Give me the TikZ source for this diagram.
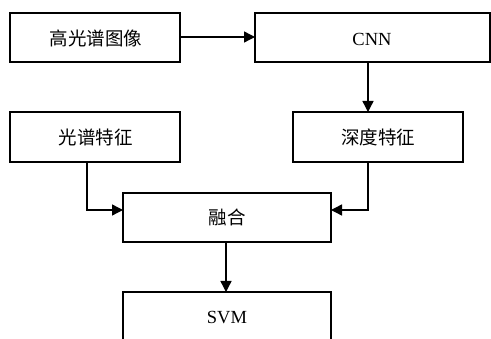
\documentclass[tikz,border=0pt]{standalone}
\usepackage{fontspec}
\setmainfont{Liberation Serif}
\newfontfamily\cjk{Noto Sans CJK SC}[Scale=1]
\usetikzlibrary{arrows.meta}
\begin{document}
\begin{tikzpicture}[x=1pt,y=-1pt,
  box/.style={draw,line width=1.5pt,inner sep=0pt},
  conn/.style={line width=1.4pt,-{Triangle[length=11pt,width=11pt]}},
  lbl/.style={font=\fontsize{18.5}{22}\selectfont}]
\useasboundingbox (0,0) rectangle (491,339);
\begin{scope}
\clip (0,0) rectangle (491,339);
\draw[box] (10,13) rectangle (180,62) coordinate (b1);
\node[lbl] (t1) at (96,38) {\cjk 高光谱图像};
\draw[box] (255,13) rectangle (490,62);
\node[lbl] (t2) at (372,39) {CNN};
\draw[box] (10,112) rectangle (180,162);
\node[lbl] (t3) at (96,137) {\cjk 光谱特征};
\draw[box] (293,112) rectangle (463,162);
\node[lbl] (t4) at (378,137) {\cjk 深度特征};
\draw[box] (123,193) rectangle (331,242);
\node[lbl] (t5) at (227,217) {\cjk 融合};
\draw[box] (123,292) rectangle (331,360);
\node[lbl] (t6) at (227,318) {SVM};
\coordinate (a1) at (180,37);
\coordinate (a2) at (255,37);
\coordinate (c1) at (368,62);
\coordinate (c2) at (368,112);
\coordinate (l1) at (87,162);
\coordinate (l2) at (123,210);
\coordinate (r1) at (368,162);
\coordinate (r2) at (331,210);
\coordinate (f1) at (226,242);
\coordinate (f2) at (226,292);
\draw[conn] (a1) -- (a2);
\draw[conn] (c1) -- (c2);
\draw[conn] (l1) |- (l2);
\draw[conn] (r1) |- (r2);
\draw[conn] (f1) -- (f2);
\end{scope}
\end{tikzpicture}
\end{document}
